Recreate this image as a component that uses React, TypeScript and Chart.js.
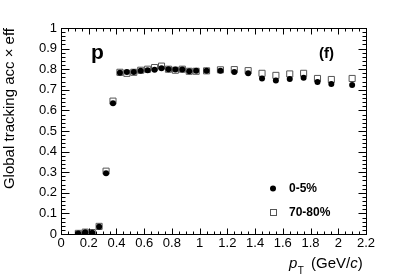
import React, { useEffect, useRef } from 'react';
import { Chart, registerables } from 'chart.js';

Chart.register(...registerables);

const ptBins = [0.125, 0.175, 0.225, 0.275, 0.325, 0.375, 0.425, 0.475, 0.525, 0.575, 0.625, 0.675, 0.725, 0.775, 0.825, 0.875, 0.925, 0.975, 1.05, 1.15, 1.25, 1.35, 1.45, 1.55, 1.65, 1.75, 1.85, 1.95, 2.1];
const central = [0.003, 0.008, 0.006, 0.035, 0.295, 0.635, 0.783, 0.787, 0.787, 0.792, 0.795, 0.797, 0.805, 0.8, 0.798, 0.798, 0.79, 0.792, 0.792, 0.792, 0.786, 0.78, 0.755, 0.745, 0.752, 0.758, 0.738, 0.728, 0.723];
const peripheral = [0.003, 0.009, 0.007, 0.037, 0.305, 0.645, 0.785, 0.78, 0.785, 0.795, 0.8, 0.808, 0.815, 0.8, 0.795, 0.8, 0.79, 0.79, 0.792, 0.797, 0.798, 0.793, 0.78, 0.77, 0.777, 0.78, 0.755, 0.75, 0.755];
const centralErr = [0, 0, 0, 0, 0, 0, 0, 0, 0, 0, 0, 0, 0, 0, 0, 0, 0, 0, 0, 0, 0.005, 0.006, 0.01, 0.01, 0.01, 0.01, 0.012, 0.012, 0.01];
const peripheralErr = [0, 0, 0, 0, 0, 0, 0, 0, 0, 0, 0, 0, 0, 0, 0, 0, 0, 0, 0, 0, 0.005, 0.006, 0.012, 0.01, 0.01, 0.012, 0.012, 0.012, 0.01];
const xTicks = [0, 0.2, 0.4, 0.6, 0.8, 1, 1.2, 1.4, 1.6, 1.8, 2, 2.2];
const yTicks = [0, 0.1, 0.2, 0.3, 0.4, 0.5, 0.6, 0.7, 0.8, 0.9, 1];
const legendLabels = ['0-5%', '70-80%'];

const FONT = '"Liberation Sans", Arial, Helvetica, sans-serif';

const fmt = (v: number) => {
  const r = Math.round(v * 10) / 10;
  return Number.isInteger(r) ? String(r) : r.toFixed(1);
};

const framePlugin = {
  id: 'rootFrame',
  beforeDatasetsDraw(chart: any) {
    const { ctx, scales } = chart;
    const x = scales.x, y = scales.y;
    ctx.save();
    ctx.lineWidth = 1;
    const drawErr = (vals: number[], errs: number[], color: string) => {
      ctx.strokeStyle = color;
      ptBins.forEach((pt, i) => {
        if (!errs[i]) return;
        const px = Math.round(x.getPixelForValue(pt)) + 0.5;
        ctx.beginPath();
        ctx.moveTo(px, y.getPixelForValue(vals[i] - errs[i]));
        ctx.lineTo(px, y.getPixelForValue(vals[i] + errs[i]));
        ctx.stroke();
      });
    };
    drawErr(peripheral, peripheralErr, '#555');
    drawErr(central, centralErr, '#000');
    ctx.restore();
  },
  afterDraw(chart: any) {
    const { ctx, chartArea, scales } = chart;
    const x = scales.x, y = scales.y;
    const L = Math.round(chartArea.left) + 0.5;
    const R = Math.round(chartArea.right) + 0.5;
    const T = Math.round(chartArea.top) + 0.5;
    const B = Math.round(chartArea.bottom) + 0.5;
    ctx.save();
    ctx.strokeStyle = '#000';
    ctx.lineWidth = 1;
    ctx.strokeRect(L, T, R - L, B - T);
    ctx.beginPath();
    for (let i = 0; i <= 44; i++) {
      const px = Math.round(x.getPixelForValue(i * 0.05)) + 0.5;
      const len = i % 4 === 0 ? 6 : 3;
      ctx.moveTo(px, B); ctx.lineTo(px, B - len);
      ctx.moveTo(px, T); ctx.lineTo(px, T + len);
    }
    for (let i = 0; i <= 50; i++) {
      const py = Math.round(y.getPixelForValue(i * 0.02)) + 0.5;
      const len = i % 5 === 0 ? 8 : 4;
      ctx.moveTo(L, py); ctx.lineTo(L + len, py);
      ctx.moveTo(R, py); ctx.lineTo(R - len, py);
    }
    ctx.stroke();

    ctx.fillStyle = '#000';
    // y title
    ctx.save();
    ctx.translate(14, chartArea.top);
    ctx.rotate(-Math.PI / 2);
    ctx.font = `15px ${FONT}`;
    ctx.textAlign = 'right';
    ctx.textBaseline = 'alphabetic';
    ctx.fillText('Global tracking acc \u00d7 eff', 0, 0);
    ctx.restore();

    // x title
    ctx.textBaseline = 'alphabetic';
    ctx.textAlign = 'left';
    let cx = 289;
    const base = 268;
    ctx.font = `italic 15px ${FONT}`;
    ctx.fillText('p', cx, base);
    cx += ctx.measureText('p').width + 0.5;
    ctx.font = `10px ${FONT}`;
    ctx.fillText('T', cx, base + 6);
    cx = 311;
    ctx.font = `15px ${FONT}`;
    ctx.fillText('(GeV/', cx, base);
    cx += ctx.measureText('(GeV/').width;
    ctx.font = `italic 15px ${FONT}`;
    ctx.fillText('c', cx, base);
    cx += ctx.measureText('c').width;
    ctx.font = `15px ${FONT}`;
    ctx.fillText(')', cx, base);

    // labels
    ctx.font = `bold 21px ${FONT}`;
    ctx.fillText('p', 91, 59);
    ctx.font = `bold 15px ${FONT}`;
    ctx.fillText('(f)', 319, 58);

    // legend
    ctx.beginPath();
    ctx.arc(273, 188.5, 3, 0, Math.PI * 2);
    ctx.fill();
    ctx.strokeStyle = '#555';
    ctx.strokeRect(270.5, 209.5, 6, 6);
    ctx.fillStyle = '#000';
    ctx.font = `bold 12px ${FONT}`;
    ctx.textBaseline = 'middle';
    ctx.fillText(legendLabels[0], 289, 188.5);
    ctx.fillText(legendLabels[1], 289, 212.5);
    ctx.restore();
  },
};

export default function App() {
  const ref = useRef<HTMLCanvasElement>(null);
  useEffect(() => {
    if (!ref.current) return;
    const chart = new Chart(ref.current, {
      type: 'scatter',
      data: {
        datasets: [
          {
            label: legendLabels[0],
            data: ptBins.map((v, i) => ({ x: v, y: central[i] })),
            pointStyle: 'circle',
            pointRadius: 3,
            backgroundColor: '#000',
            borderColor: '#000',
            borderWidth: 0,
          },
          {
            label: legendLabels[1],
            data: ptBins.map((v, i) => ({ x: v, y: peripheral[i] })),
            pointStyle: 'rect',
            pointRadius: 4.3,
            backgroundColor: '#fff',
            borderColor: '#555',
            borderWidth: 1,
          },
        ],
      },
      options: {
        responsive: false,
        animation: false,
        layout: { padding: { left: 0, top: 28, right: 41, bottom: 0 } },
        plugins: { legend: { display: false }, tooltip: { enabled: false } },
        scales: {
          x: {
            type: 'linear',
            min: 0,
            max: 2.2,
            afterBuildTicks: (s: any) => { s.ticks = xTicks.map((v) => ({ value: v })); },
            afterFit: (s: any) => { s.height = 42; },
            ticks: {
              callback: (v: any) => fmt(Number(v)),
              font: { family: FONT, size: 13 },
              color: '#000',
              padding: 2,
              maxRotation: 0,
              autoSkip: false,
            },
            grid: { display: false, drawTicks: false },
            border: { display: false },
          },
          y: {
            type: 'linear',
            min: 0,
            max: 1,
            afterBuildTicks: (s: any) => { s.ticks = yTicks.map((v) => ({ value: v })); },
            afterFit: (s: any) => { s.width = 61; },
            ticks: {
              callback: (v: any) => fmt(Number(v)),
              font: { family: FONT, size: 13 },
              color: '#000',
              padding: 4,
              autoSkip: false,
            },
            grid: { display: false, drawTicks: false },
            border: { display: false },
          },
        },
      },
      plugins: [framePlugin],
    });
    return () => chart.destroy();
  }, []);
  return (
    <div style={{ position: 'absolute', left: 0, top: 0, width: 407, height: 276, background: '#fff' }}>
      <canvas ref={ref} width={407} height={276} style={{ display: 'block' }} />
    </div>
  );
}
